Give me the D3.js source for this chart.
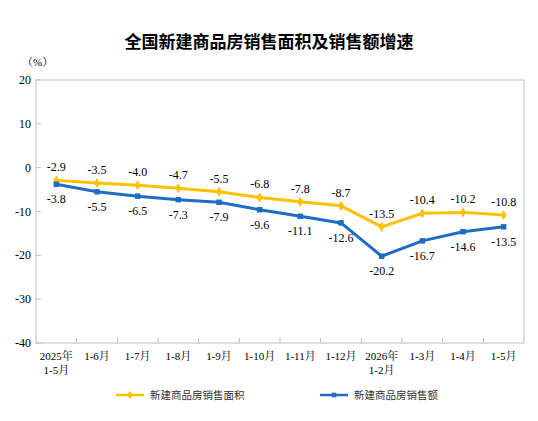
<!DOCTYPE html>
<html><head><meta charset="utf-8">
<script src="https://cdn.jsdelivr.net/npm/d3@7"></script>
<style>body{margin:0;background:#fff}</style>
</head><body><div id="chart"></div>
<script>
const categories = ['2025年\n1-5月', '1-6月', '1-7月', '1-8月', '1-9月', '1-10月', '1-11月', '1-12月', '2026年\n1-2月', '1-3月', '1-4月', '1-5月'];
const areaValues = [-2.9, -3.5, -4.0, -4.7, -5.5, -6.8, -7.8, -8.7, -13.5, -10.4, -10.2, -10.8];
const salesValues = [-3.8, -5.5, -6.5, -7.3, -7.9, -9.6, -11.1, -12.6, -20.2, -16.7, -14.6, -13.5];
const yTicks = [20, 10, 0, -10, -20, -30, -40];
const seriesNames = ['新建商品房销售面积', '新建商品房销售额'];

const width = 538, height = 421;
const m = { left: 36, right: 14, top: 80, bottom: 78 };
const serif = '"Liberation Serif", "Noto Serif CJK SC", "Noto Sans CJK SC", serif';
const yellow = '#FFC000', blue = '#1F6CC4';

const svg = d3.select('#chart').append('svg').attr('width', width).attr('height', height);

const x = d3.scaleBand().domain(categories).range([m.left, width - m.right]);
const y = d3.scaleLinear().domain([-40, 20]).range([height - m.bottom, m.top]);

svg.append('text').attr('x', width / 2).attr('y', 48).attr('text-anchor', 'middle')
  .attr('font-family', '"Noto Sans CJK SC", sans-serif').attr('font-size', 17).attr('font-weight', 'bold')
  .text('全国新建商品房销售面积及销售额增速');

svg.append('text').attr('x', 22).attr('y', 66).attr('font-family', serif).attr('font-size', 11).text('（%）');

svg.append('rect').attr('x', m.left).attr('y', m.top)
  .attr('width', width - m.left - m.right).attr('height', height - m.top - m.bottom)
  .attr('fill', 'none').attr('stroke', '#bfbfbf');

// y ticks labels
svg.selectAll('.yl').data(yTicks).enter().append('text')
  .attr('x', m.left - 5).attr('y', d => y(d) + 4).attr('text-anchor', 'end')
  .attr('font-family', serif).attr('font-size', 12).text(d => d);
svg.selectAll('.yt').data(yTicks).enter().append('line')
  .attr('x1', m.left).attr('x2', m.left + 5).attr('y1', d => y(d)).attr('y2', d => y(d)).attr('stroke', '#bfbfbf');

// x ticks
svg.selectAll('.xt').data(categories.slice(1)).enter().append('line')
  .attr('x1', d => x(d)).attr('x2', d => x(d))
  .attr('y1', y(-40)).attr('y2', y(-40) - 5).attr('stroke', '#bfbfbf');
const xl = svg.selectAll('.xl').data(categories).enter().append('text')
  .attr('text-anchor', 'middle').attr('font-family', serif).attr('font-size', 11);
xl.each(function (d) {
  const parts = d.split('\n');
  parts.forEach((p, i) => d3.select(this).append('tspan')
    .attr('x', x(d) + x.bandwidth() / 2).attr('y', y(-40) + 17 + i * 14).text(p));
});

const cx = d => x(d) + x.bandwidth() / 2;
const line = d3.line().x((d, i) => cx(categories[i])).y(d => y(d));

function drawSeries(vals, color, shape, dy) {
  svg.append('path').datum(vals).attr('d', line).attr('fill', 'none')
    .attr('stroke', color).attr('stroke-width', 3);
  svg.selectAll(null).data(vals).enter().append('path')
    .attr('transform', (d, i) => `translate(${cx(categories[i])},${y(d)})`)
    .attr('d', d3.symbol().type(shape).size(30)).attr('fill', color);
  svg.selectAll(null).data(vals).enter().append('text')
    .attr('x', (d, i) => cx(categories[i])).attr('y', d => y(d) + dy)
    .attr('text-anchor', 'middle').attr('font-family', serif).attr('font-size', 12)
    .text(d => d.toFixed(1));
}
drawSeries(areaValues, yellow, d3.symbolDiamond, -9);
drawSeries(salesValues, blue, d3.symbolSquare, 19);

// legend
const lg = [[seriesNames[0], yellow, d3.symbolDiamond, 116], [seriesNames[1], blue, d3.symbolSquare, 320]];
lg.forEach(([name, color, shape, lx]) => {
  const ly = 395;
  svg.append('line').attr('x1', lx).attr('x2', lx + 28).attr('y1', ly).attr('y2', ly)
    .attr('stroke', color).attr('stroke-width', 2.5);
  svg.append('path').attr('transform', `translate(${lx + 14},${ly})`)
    .attr('d', d3.symbol().type(shape).size(22)).attr('fill', color);
  svg.append('text').attr('x', lx + 34).attr('y', ly + 4).attr('font-family', '"Noto Sans CJK SC", sans-serif')
    .attr('font-size', 10.5).attr('fill', '#333').text(name);
});
</script></body></html>
